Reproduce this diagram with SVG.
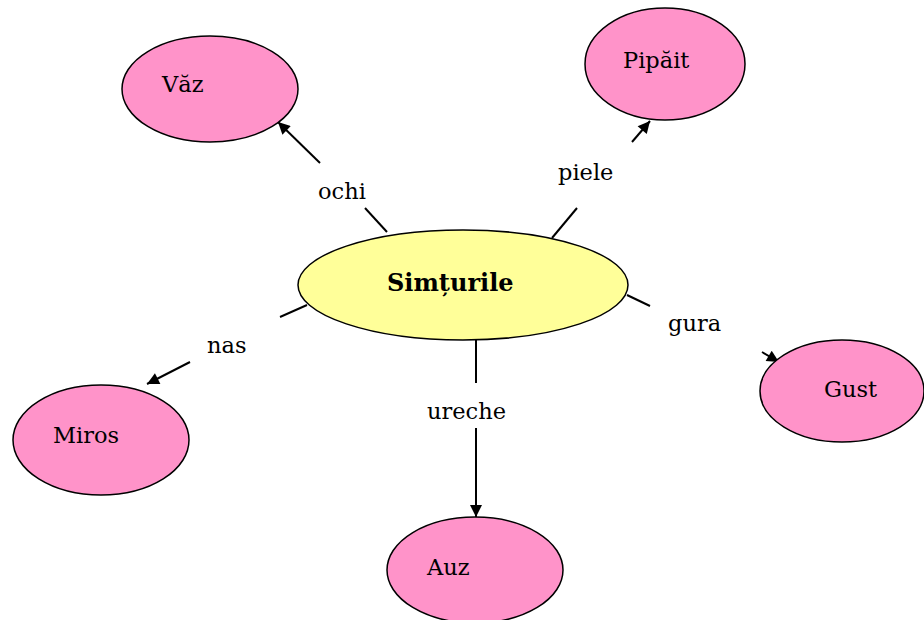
<svg xmlns="http://www.w3.org/2000/svg" width="924" height="620" viewBox="0 0 924 620">
<defs>
<marker id="arr" viewBox="0 0 10 10" refX="10" refY="5" markerWidth="14" markerHeight="12" markerUnits="userSpaceOnUse" orient="auto">
<path d="M0,0 L10,5 L0,10 z" fill="#000"/>
</marker>
<style>
.leaf{fill:#FF93C9;stroke:#000;stroke-width:1.5}
.root{fill:#FFFF99;stroke:#000;stroke-width:1.5}
text{font-family:'DejaVu Serif','Liberation Serif',serif}
.t{font-size:22.5px;fill:#000}
.tb{font-size:24px;font-weight:bold;fill:#000}
.c{stroke:#000;stroke-width:2;fill:none}
.ca{stroke:#000;stroke-width:2;fill:none;marker-end:url(#arr)}
</style>
</defs>
<rect width="924" height="620" fill="#fff"/>
<g id="connectors">
<line class="c" x1="387" y1="232" x2="365" y2="208"/>
<line class="ca" x1="320" y1="163" x2="278" y2="122"/>
<text class="t" x="318" y="199">ochi</text>
<line class="c" x1="552" y1="238" x2="577" y2="208"/>
<line class="ca" x1="632" y1="142" x2="650" y2="121"/>
<text class="t" x="558" y="180">piele</text>
<line class="c" x1="280" y1="317" x2="307" y2="305"/>
<line class="ca" x1="190" y1="362" x2="147" y2="384"/>
<text class="t" x="207" y="353">nas</text>
<line class="c" x1="627" y1="295" x2="650" y2="306"/>
<line class="ca" x1="762" y1="352" x2="779" y2="362"/>
<text class="t" x="668" y="331">gura</text>
<line class="c" x1="476" y1="340" x2="476" y2="383"/>
<line class="ca" x1="476" y1="428" x2="476" y2="517"/>
<text class="t" x="427" y="419">ureche</text>
</g>
<g id="node-simturile">
<ellipse class="root" cx="463" cy="285" rx="165" ry="55"/>
<text class="tb" x="387" y="291">Simțurile</text>
</g>
<g id="node-vaz">
<ellipse class="leaf" cx="210" cy="89" rx="88" ry="53"/>
<text class="t" x="162" y="92">Văz</text>
</g>
<g id="node-pipait">
<ellipse class="leaf" cx="665" cy="64" rx="80" ry="56"/>
<text class="t" x="623" y="68">Pipăit</text>
</g>
<g id="node-miros">
<ellipse class="leaf" cx="101" cy="440" rx="88" ry="55"/>
<text class="t" x="53" y="443">Miros</text>
</g>
<g id="node-gust">
<ellipse class="leaf" cx="842" cy="391" rx="82" ry="51"/>
<text class="t" x="824" y="397">Gust</text>
</g>
<g id="node-auz">
<ellipse class="leaf" cx="475" cy="570" rx="88" ry="53"/>
<text class="t" x="427" y="575">Auz</text>
</g>
</svg>
